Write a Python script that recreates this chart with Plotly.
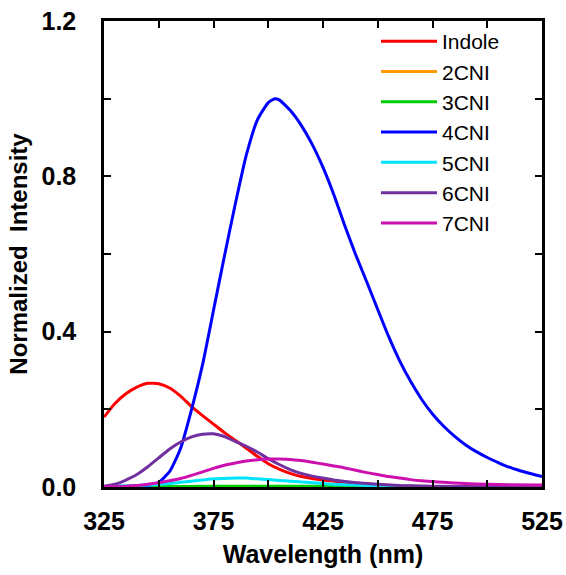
import plotly.graph_objects as go

# ---------------- data ----------------
wl_indole = [325, 330, 335, 340, 345, 350, 355, 360, 365, 370, 375, 380, 385, 390, 395, 400,
             405, 410, 415, 420, 425, 430, 435, 440, 450, 460, 475, 500, 525]
indole = [0.18, 0.215, 0.24, 0.257, 0.267, 0.266, 0.255, 0.234, 0.207, 0.184, 0.162, 0.14, 0.12,
          0.1, 0.079, 0.06, 0.046, 0.035, 0.027, 0.022, 0.018, 0.015, 0.012, 0.01, 0.006,
          0.003, 0.001, 0.0, 0.0]

wl_flat = [325, 350, 375, 400, 425, 450, 475, 500, 525]
cni2 = [0.001, 0.001, 0.001, 0.001, 0.001, 0.001, 0.001, 0.001, 0.001]
cni3 = [0.001, 0.001, 0.002, 0.002, 0.002, 0.001, 0.001, 0.001, 0.001]

wl_4 = [325, 335, 345, 350, 355, 360, 365, 370, 375, 380, 385, 390, 395, 400, 403, 405, 410,
        415, 420, 425, 430, 435, 440, 445, 450, 455, 460, 465, 470, 475, 480, 485, 490, 495,
        500, 505, 510, 515, 520, 525]
cni4 = [0.0, 0.0, 0.003, 0.012, 0.04, 0.1, 0.2, 0.315, 0.455, 0.595, 0.73, 0.855, 0.945, 0.99,
        1.0, 0.997, 0.97, 0.932, 0.883, 0.823, 0.752, 0.672, 0.597, 0.528, 0.457, 0.387, 0.325,
        0.272, 0.226, 0.188, 0.157, 0.131, 0.109, 0.091, 0.076, 0.063, 0.051, 0.042, 0.034, 0.027]

wl_5 = [325, 335, 345, 350, 355, 360, 365, 370, 375, 380, 385, 390, 395, 400, 405, 410, 415,
        420, 425, 430, 440, 450, 475, 525]
cni5 = [0.002, 0.003, 0.005, 0.007, 0.009, 0.012, 0.015, 0.018, 0.021, 0.022, 0.023, 0.023,
        0.021, 0.019, 0.017, 0.015, 0.013, 0.011, 0.009, 0.007, 0.005, 0.003, 0.001, 0.0]

wl_6 = [325, 330, 335, 340, 345, 350, 355, 360, 365, 370, 375, 380, 385, 390, 395, 400, 405,
        410, 415, 420, 425, 430, 435, 440, 450, 460, 475, 500, 525]
cni6 = [0.002, 0.007, 0.018, 0.032, 0.052, 0.075, 0.098, 0.116, 0.129, 0.136, 0.137, 0.13,
        0.117, 0.105, 0.09, 0.073, 0.058, 0.045, 0.035, 0.028, 0.023, 0.018, 0.014, 0.011,
        0.007, 0.004, 0.002, 0.001, 0.0]

wl_7 = [325, 330, 335, 340, 345, 350, 355, 360, 365, 370, 375, 380, 385, 390, 395, 400, 405,
        410, 415, 420, 425, 430, 435, 440, 445, 450, 455, 460, 465, 470, 475, 480, 490, 500,
        510, 525]
cni7 = [0.001, 0.001, 0.002, 0.004, 0.007, 0.011, 0.016, 0.022, 0.03, 0.039, 0.048, 0.056,
        0.062, 0.067, 0.07, 0.072, 0.072, 0.071, 0.068, 0.064, 0.059, 0.054, 0.049, 0.043,
        0.037, 0.032, 0.027, 0.023, 0.019, 0.016, 0.014, 0.012, 0.009, 0.007, 0.006, 0.005]

names = ["Indole", "2CNI", "3CNI", "4CNI", "5CNI", "6CNI", "7CNI"]
colors = ["#ff0000", "#ff9900", "#00cc00", "#0000ff", "#00e5ff", "#7030a0", "#cc10b0"]
xs = [wl_indole, wl_flat, wl_flat, wl_4, wl_5, wl_6, wl_7]
ys = [indole, cni2, cni3, cni4, cni5, cni6, cni7]

x_ticks = [325, 350, 375, 400, 425, 450, 475, 500, 525]
x_ticktext = ["325", "", "375", "", "425", "", "475", "", "525"]
y_ticks = [0.0, 0.2, 0.4, 0.6, 0.8, 1.0, 1.2]
y_ticktext = ["0.0", "", "0.4", "", "0.8", "", "1.2"]

# ---------------- figure ----------------
FONT = "Liberation Sans, Arial"
fig = go.Figure()
for n, c, x, y in zip(names, colors, xs, ys):
    fig.add_trace(go.Scatter(x=x, y=y, name=n, mode="lines",
                             line=dict(color=c, width=3, shape="spline", smoothing=0.5)))

axis_common = dict(showline=True, linecolor="black", linewidth=2.5, mirror="allticks",
                   ticks="inside", ticklen=7, tickwidth=2, tickcolor="black",
                   showgrid=False, zeroline=False, automargin=False,
                   tickfont=dict(family=FONT, size=25, color="black", weight="bold"))

fig.update_xaxes(range=[325, 525], tickvals=x_ticks, ticktext=x_ticktext,
                 ticklabelstandoff=10,
                 title=dict(text="<b>Wavelength (nm)</b>", standoff=12,
                            font=dict(family=FONT, size=25, color="black")),
                 **axis_common)
fig.update_yaxes(range=[0, 1.2], tickvals=y_ticks, ticktext=y_ticktext,
                 ticklabelstandoff=20,
                 title=dict(text="<b>Normalized&nbsp;&nbsp;Intensity</b>", standoff=8,
                            font=dict(family=FONT, size=24, color="black")),
                 **axis_common)

fig.update_layout(
    width=566, height=575,
    margin=dict(l=104, r=24, t=21, b=88),
    plot_bgcolor="white", paper_bgcolor="white",
    showlegend=True,
    legend=dict(x=0.621, y=1.0, xanchor="left", yanchor="top",
                bgcolor="rgba(0,0,0,0)", borderwidth=0,
                font=dict(family=FONT, size=21, color="black"),
                itemwidth=56, tracegroupgap=0),
)

fig.write_html("out.html")
